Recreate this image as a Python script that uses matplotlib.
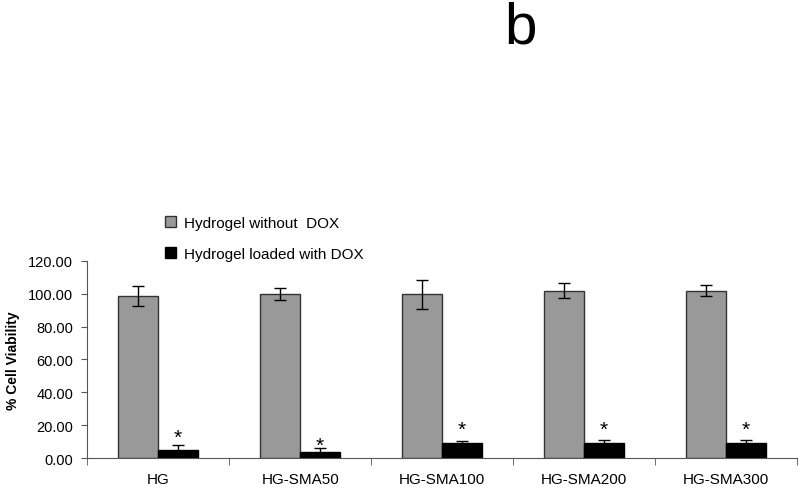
import matplotlib.pyplot as plt
import numpy as np

plt.rcParams['font.family'] = ['Liberation Sans', 'DejaVu Sans']

groups = ['HG', 'HG-SMA50', 'HG-SMA100', 'HG-SMA200', 'HG-SMA300']
no_dox = [98.6, 100.0, 99.6, 102.0, 102.0]
no_dox_err = [6.3, 3.6, 8.8, 4.8, 3.5]
with_dox = [5.0, 3.4, 9.1, 9.1, 9.1]
with_dox_err = [3.0, 2.4, 1.2, 2.0, 2.0]
star_y = [12.5, 8.0, 17.5, 17.5, 17.5]

fig = plt.figure(figsize=(8, 4.89), dpi=100)
ax = fig.add_axes([0.109, 0.0613, 0.8875, 0.403])

x = np.arange(len(groups))
w = 0.28
err_kw = dict(ecolor='black', elinewidth=1, capsize=4, capthick=1)
ax.bar(x - w / 2, no_dox, w, yerr=no_dox_err, color='#999999',
       edgecolor='#333333', linewidth=1, error_kw=err_kw,
       label='Hydrogel without  DOX')
ax.bar(x + w / 2, with_dox, w, yerr=with_dox_err, color='black',
       edgecolor='black', linewidth=1, error_kw=err_kw,
       label='Hydrogel loaded with DOX')

for xi, sy in zip(x, star_y):
    ax.text(xi + w / 2, sy, '*', ha='center', va='center', fontsize=15)

ax.set_xlim(-0.5, len(groups) - 0.5)
ax.set_ylim(0, 120)
ax.set_yticks(np.arange(0, 121, 20))
ax.set_yticklabels(['%.2f' % v for v in np.arange(0, 121, 20)], fontsize=10.5)
ax.set_xticks(x)
ax.set_xticklabels(groups, fontsize=11)
ax.set_xticks(np.arange(-0.5, len(groups), 1), minor=True)
ax.tick_params(axis='x', which='major', length=0, pad=10)
ax.tick_params(axis='x', which='minor', length=5, color='#555555')
ax.tick_params(axis='y', length=4, pad=6, color='#555555')
for s in ['top', 'right']:
    ax.spines[s].set_visible(False)
for s in ['left', 'bottom']:
    ax.spines[s].set_color('#555555')

ax.set_ylabel('% Cell Viability', fontsize=10, fontweight='bold', labelpad=6)

ax.legend(loc='upper left', bbox_to_anchor=(151 / 800, 1 - 203 / 489),
          bbox_transform=fig.transFigure, frameon=False,
          fontsize=11, handlelength=0.75, handleheight=0.75,
          labelspacing=1.1, handletextpad=0.5)

fig.text(0.651, 0.997, 'b', fontsize=42, ha='center', va='top')

fig.savefig('out.png', dpi=100)
